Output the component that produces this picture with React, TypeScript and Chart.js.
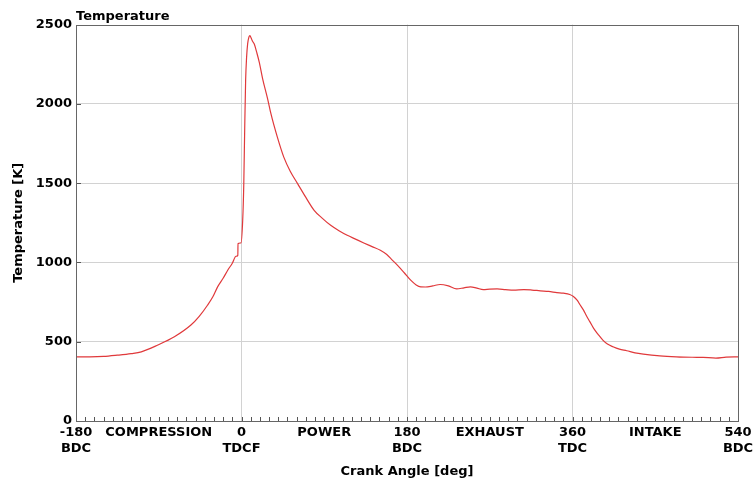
import React, { useEffect, useRef } from "react";
import { Chart, registerables } from "chart.js";

Chart.register(...registerables);

const crankAngles: number[] = [
  -180, -165, -150, -135, -120, -109, -91, -73, -55, -46, -37, -31, -26, -20, -15, -10, -6, -4, -3.8, -0.5,
  1.3, 2.5, 3.5, 4.5, 5.5, 6.7, 8, 9.2, 10.5, 12, 13.9, 16.5, 19.3, 23, 28.4, 32, 39, 46, 53, 61, 70, 79,
  88, 97, 106, 115, 124, 133, 142, 151, 158, 164, 170, 177, 184, 190, 195, 200, 208, 216, 225, 234, 242,
  249, 256, 263, 270, 278, 287, 296, 307, 316, 325, 334, 343, 350, 357, 361, 365, 368, 372, 375, 379, 383,
  388, 393, 398, 404, 411, 419, 428, 437, 455, 473, 490, 502, 516, 527, 540,
];

const temperatures: number[] = [
  405, 405, 407, 415, 425, 436, 479, 531, 605, 660, 730, 785, 846, 900, 951, 995, 1039, 1045, 1119, 1123,
  1266, 1500, 1850, 2150, 2290, 2380, 2420, 2431, 2415, 2395, 2378, 2326, 2263, 2158, 2032, 1938, 1790,
  1664, 1575, 1497, 1410, 1329, 1278, 1234, 1200, 1171, 1147, 1123, 1100, 1077, 1050, 1015, 980, 935, 888,
  858, 846, 845, 852, 861, 852, 833, 840, 846, 838, 829, 832, 833, 829, 825, 829, 826, 821, 817, 810, 806,
  798, 785, 762, 735, 699, 665, 625, 584, 545, 510, 485, 468, 453, 443, 430, 422, 411, 405, 402, 401, 397,
  403, 405,
];

const xTickValues: number[] = [-180, -90, 0, 90, 180, 270, 360, 450, 540];
const xTickLabels: (string | string[])[] = [
  ["-180", "BDC"],
  "COMPRESSION",
  ["0", "TDCF"],
  "POWER",
  ["180", "BDC"],
  "EXHAUST",
  ["360", "TDC"],
  "INTAKE",
  ["540", "BDC"],
];
const xGridValues: number[] = [0, 180, 360];
const yTickValues: number[] = [0, 500, 1000, 1500, 2000, 2500];

const FONT = "'DejaVu Sans', sans-serif";

export default function App() {
  const ref = useRef<HTMLCanvasElement | null>(null);

  useEffect(() => {
    if (!ref.current) return;

    const frame = {
      id: "frameAndTicks",
      afterDraw(chart: any) {
        const { ctx, chartArea, scales } = chart;
        const xs = scales.x;
        const ys = scales.y;
        ctx.save();
        ctx.strokeStyle = "#555";
        ctx.lineWidth = 1;
        ctx.beginPath();
        for (let v = -180; v <= 540; v += 10) {
          const px = Math.round(xs.getPixelForValue(v)) + 0.5;
          ctx.moveTo(px, chartArea.bottom);
          ctx.lineTo(px, chartArea.bottom - 4);
        }
        for (const v of yTickValues) {
          const py = Math.round(ys.getPixelForValue(v)) + 0.5;
          ctx.moveTo(chartArea.left, py);
          ctx.lineTo(chartArea.left + 5, py);
        }
        ctx.stroke();
        ctx.strokeStyle = "#666";
        ctx.strokeRect(
          Math.round(chartArea.left) + 0.5,
          Math.round(chartArea.top) + 0.5,
          Math.round(chartArea.right - chartArea.left),
          Math.round(chartArea.bottom - chartArea.top)
        );
        ctx.restore();
      },
    };

    const chart = new Chart(ref.current, {
      type: "line",
      data: {
        datasets: [
          {
            label: "Temperature",
            data: crankAngles.map((a, i) => ({ x: a, y: temperatures[i] })),
            borderColor: "#e0393b",
            borderWidth: 1.2,
            pointRadius: 0,
            fill: false,
            cubicInterpolationMode: "monotone",
          },
        ],
      },
      options: {
        animation: false,
        responsive: false,
        layout: { padding: { left: 0, right: 16, top: 0, bottom: 0 } },
        plugins: {
          legend: { display: false },
          tooltip: { enabled: false },
          title: {
            display: true,
            text: "Temperature",
            align: "start",
            fullSize: false,
            color: "#000",
            font: { family: FONT, size: 13, weight: "bold" },
            padding: { top: 9, bottom: 0 },
          },
        },
        scales: {
          x: {
            type: "linear",
            min: -180,
            max: 540,
            afterFit: (s: any) => {
              s.height = 59;
              s.paddingLeft = 0;
              s.paddingRight = 0;
            },
            ticks: {
              stepSize: 10,
              autoSkip: false,
              maxRotation: 0,
              minRotation: 0,
              padding: 4,
              color: "#000",
              font: { family: FONT, size: 13, weight: "bold" },
              callback: (v: any) => {
                const idx = xTickValues.indexOf(Number(v));
                return idx >= 0 ? xTickLabels[idx] : "";
              },
            },
            grid: {
              drawTicks: false,
              color: (c: any) =>
                c.tick && xGridValues.includes(c.tick.value) ? "#d2d2d2" : "rgba(0,0,0,0)",
            },
            border: { display: false },
            title: {
              display: true,
              text: "Crank Angle [deg]",
              color: "#000",
              font: { family: FONT, size: 13, weight: "bold" },
              padding: { top: 0, bottom: 1 },
            },
          },
          y: {
            min: 0,
            max: 2500,
            afterFit: (s: any) => {
              s.width = 76;
              s.paddingTop = 0;
              s.paddingBottom = 0;
            },
            afterBuildTicks: (s: any) => {
              s.ticks = yTickValues.map((v) => ({ value: v }));
            },
            ticks: {
              padding: 4,
              color: "#000",
              font: { family: FONT, size: 13, weight: "bold" },
              callback: (v: any) => String(v),
            },
            grid: {
              drawTicks: false,
              color: (c: any) =>
                c.tick && c.tick.value > 0 && c.tick.value < 2500 ? "#d2d2d2" : "rgba(0,0,0,0)",
            },
            border: { display: false },
            title: {
              display: true,
              text: "Temperature [K]",
              color: "#000",
              font: { family: FONT, size: 13, weight: "bold" },
              padding: { top: 11, bottom: 0 },
            },
          },
        },
      },
      plugins: [frame],
    } as any);

    return () => chart.destroy();
  }, []);

  return (
    <div style={{ position: "absolute", left: 0, top: 0, width: 754, height: 480, background: "#fff" }}>
      <canvas ref={ref} width={754} height={480} style={{ display: "block" }} />
    </div>
  );
}
